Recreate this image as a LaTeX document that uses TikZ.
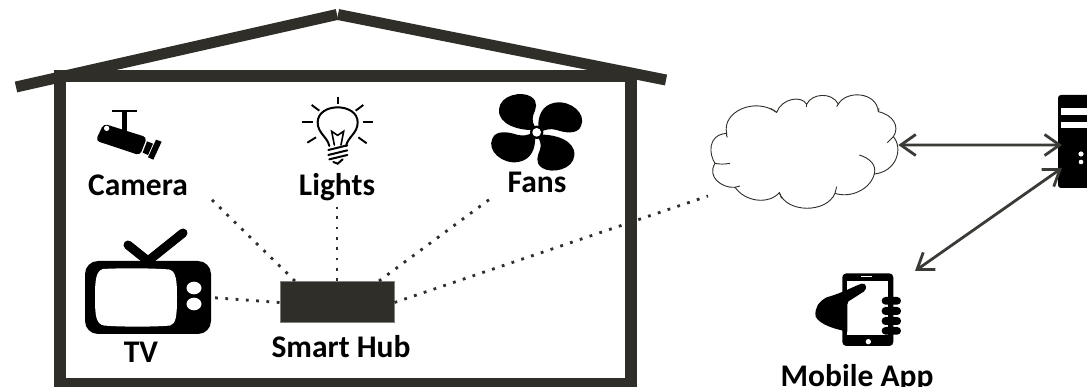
\documentclass[tikz,border=0pt]{standalone}
\usepackage{fontspec}
\setmainfont{Carlito}
\usetikzlibrary{arrows.meta}
\definecolor{wallcol}{HTML}{2F2E28}
\definecolor{arrcol}{HTML}{3A3A36}
\tikzset{
  wall/.style={draw=wallcol,line width=12pt},
  roofline/.style={draw=wallcol,line width=11pt},
  label/.style={font=\fontsize{31.5}{34}\selectfont\bfseries,inner sep=0pt,anchor=base,text=black},
  dots/.style={draw=wallcol,line width=2.8pt,dash pattern=on 2.8pt off 7.5pt},
  link/.style={draw=arrcol,line width=2.8pt,{Straight Barb[length=15pt,width=21pt,line width=2.8pt]}-{Straight Barb[length=15pt,width=21pt,line width=2.8pt]}},
  hubbox/.style={fill=wallcol,draw=gray,line width=1pt,minimum width=114pt,minimum height=41pt,inner sep=0pt},
  cloudline/.style={draw=wallcol,line width=0.9pt},
  bulbline/.style={draw=black,line width=2pt,line cap=round},
  ray/.style={draw=black,line width=1.9pt},
  tvbody/.style={fill=black,rounded corners=13pt,minimum width=126pt,minimum height=73pt,inner sep=0pt},
  serverbody/.style={fill=black,rounded corners=3pt,minimum width=44pt,minimum height=93pt,inner sep=0pt},
  finger/.style={fill=black,rounded corners=3.8pt}
}
\begin{document}
\begin{tikzpicture}[x=1pt,y=-1pt]
\useasboundingbox (0,0) rectangle (1087,387);
\clip (0,0) rectangle (1087,387);
\fill[white] (0,0) rectangle (1087,387);
% house
\draw[wall] (60,76) rectangle (631,384);
\draw[roofline] (16,87) -- (337,14.5);
\draw[roofline] (338,14.5) -- (666,80);
% anchors for dotted links
\node[hubbox] (hub) at (337,302.5) {};
\node[tvbody] (tv) at (148,297.5) {};
\coordinate (hubCam) at (295,281);
\coordinate (hubLight) at (337,281);
\coordinate (hubFan) at (379,281);
\coordinate (endCam) at (207,195);
\coordinate (endLight) at (337,207);
\coordinate (endFan) at (494,196);
\coordinate (cloudIn) at (708,196);
\draw[dots] (hub.west) -- (tv.east);
\draw[dots] (hubCam) -- (endCam);
\draw[dots] (hubLight) -- (endLight);
\draw[dots] (hubFan) -- (endFan);
\draw[dots] (hub.east) -- (cloudIn);
% TV
\draw[black,line width=9pt,line cap=round] (128,245) -- (148,261) -- (183,233);
\fill[white] (103,269) .. controls (96,271) and (95,280) .. (95,297) .. controls (95,316) and (96,324) .. (104,325.5) .. controls (120,327) and (155,327) .. (170,325.5) .. controls (176,324) and (177,316) .. (177,297) .. controls (177,280) and (176,271) .. (169,269.5) .. controls (150,268) and (120,268) .. (103,269) -- cycle;
\fill[white] (194,288) ellipse [x radius=7.5,y radius=6.3];
\fill[white] (194,304) ellipse [x radius=7.5,y radius=6.3];
% camera
\begin{scope}[scale=1/3]
\fill[black] (337,329) rectangle (411,336);
\fill[black] (366,332) rectangle (381,400);
\fill[black,rounded corners=4pt] (311,371) -- (287,422) -- (420,466) -- (441,412) -- cycle;
\fill[white] (320,385) circle (8);
\fill[black] (441,424) -- (428,458) -- (444,465) -- (459,431) -- cycle;
\fill[black] (468,419) -- (444,472) -- (460,479) -- (485,425) -- cycle;
\end{scope}
% bulb
\begin{scope}[shift={(290,90)},scale=1/3]
\draw[ray] (143,20) -- (143,43);
\draw[ray] (65,45) -- (88,62);
\draw[ray] (220,45) -- (197,62);
\draw[ray] (35,97) -- (68,97);
\draw[ray] (218,97) -- (250,97);
\draw[ray] (52,158) -- (78,142);
\draw[ray] (230,160) -- (205,142);
\draw[bulbline] (118,168) .. controls (112,140) and (83,130) .. (83,97) .. controls (83,68) and (112,52) .. (143,52) .. controls (174,52) and (203,68) .. (203,97) .. controls (203,130) and (174,140) .. (168,168);
\draw[bulbline,line width=1.6pt] (133,165) -- (125,124) -- (143,136) -- (161,124) -- (153,165);
\draw[bulbline] (115,180) -- (172,166);
\draw[bulbline] (115,195) -- (172,181);
\draw[bulbline] (118,208) -- (172,195);
\draw[bulbline] (130,216) -- (143,221) -- (158,208);
\end{scope}
% fan
\begin{scope}[shift={(485,90)},scale=1/3]
\foreach \r in {0,180}{
\begin{scope}[rotate around={\r:(155,127)}]
\fill[black] (148,120) .. controls (105,122) and (38,105) .. (42,58) .. controls (45,15) and (110,2) .. (138,20) .. controls (162,35) and (152,58) .. (145,75) .. controls (140,90) and (145,105) .. (152,112) -- cycle;
\fill[black] (160,113) .. controls (158,80) and (170,45) .. (210,38) .. controls (258,30) and (305,72) .. (288,108) .. controls (278,135) and (238,128) .. (215,120) .. controls (195,114) and (180,120) .. (170,124) -- cycle;
\end{scope}}
\fill[black] (155,127) circle (20);
\fill[white] (155,127) circle (13);
\end{scope}
% cloud
\begin{scope}[shift={(680,80)},scale=1/3]
\coordinate (cloudOut) at (655,195);
\filldraw[cloudline,fill=white] (105,250) .. controls (88,225) and (80,165) .. (140,160)
 .. controls (125,95) and (225,50) .. (290,97)
 .. controls (305,55) and (365,45) .. (380,73)
 .. controls (395,40) and (455,35) .. (475,72)
 .. controls (500,30) and (590,35) .. (595,95)
 .. controls (640,105) and (660,140) .. (640,170)
 .. controls (670,205) and (650,275) .. (583,282)
 .. controls (570,330) and (510,355) .. (465,340)
 .. controls (440,400) and (320,400) .. (298,338)
 .. controls (265,375) and (195,365) .. (165,322)
 .. controls (125,325) and (80,290) .. (105,250) -- cycle;
\draw[cloudline] (105,250) .. controls (118,253) and (135,253) .. (150,250);
\draw[cloudline] (140,160) .. controls (139,165) and (140,170) .. (142,172);
\draw[cloudline] (290,97) -- (272,85);
\draw[cloudline] (380,73) -- (380,82);
\draw[cloudline] (475,72) -- (470,80);
\draw[cloudline] (595,95) -- (597,85);
\draw[cloudline] (640,170) -- (622,188);
\draw[cloudline] (538,225) .. controls (570,235) and (590,255) .. (583,282);
\draw[cloudline] (465,340) -- (470,320);
\draw[cloudline] (298,338) -- (305,355);
\draw[cloudline] (165,322) -- (180,318);
\end{scope}
% server
\node[serverbody] (server) at (1080,141.5) {};
\fill[white] (1061,108) rectangle (1087,115);
\fill[white] (1061,122) rectangle (1087,128);
\fill[white] (1081,154) circle (2.6);
\fill[white] (1081,162) circle (2.3);
\coordinate (serverA) at (1062,145);
\coordinate (serverB) at (1062,168);
% phone
\begin{scope}[shift={(805,265)},scale=1/3]
\fill[black,rounded corners=4pt] (112,25) rectangle (265,243);
\fill[white] (127,47) rectangle (250,211);
\fill[white] (168,33) rectangle (200,37);
\fill[white] (190,230) circle (8);
\fill[black] (170,56) .. controls (150,62) and (110,85) .. (65,97) .. controls (40,110) and (28,130) .. (32,155) .. controls (45,180) and (90,192) .. (127,200) -- (127,118) .. controls (127,110) and (132,107) .. (140,103) -- (176,80) .. controls (188,72) and (184,52) .. (170,56) -- cycle;
\fill[finger] (230,96) rectangle (288,119);
\fill[finger] (230,126) rectangle (288,150);
\fill[finger] (230,156) rectangle (288,180);
\fill[finger] (230,186) rectangle (288,209);
\end{scope}
\coordinate (phoneEnd) at (915,271);
% links
\draw[link] (cloudOut) -- (serverA);
\draw[link] (phoneEnd) -- (serverB);
% labels
\node[label] (lcam) at (138,196) {Camera};
\node[label] (llight) at (337,196) {Lights};
\node[label] (lfan) at (537,193) {Fans};
\node[label] (ltv) at (141,362) {TV};
\node[label] (lhub) at (341,357) {Smart Hub};
\node[label] (lapp) at (857,386) {Mobile App};
\end{tikzpicture}
\end{document}
